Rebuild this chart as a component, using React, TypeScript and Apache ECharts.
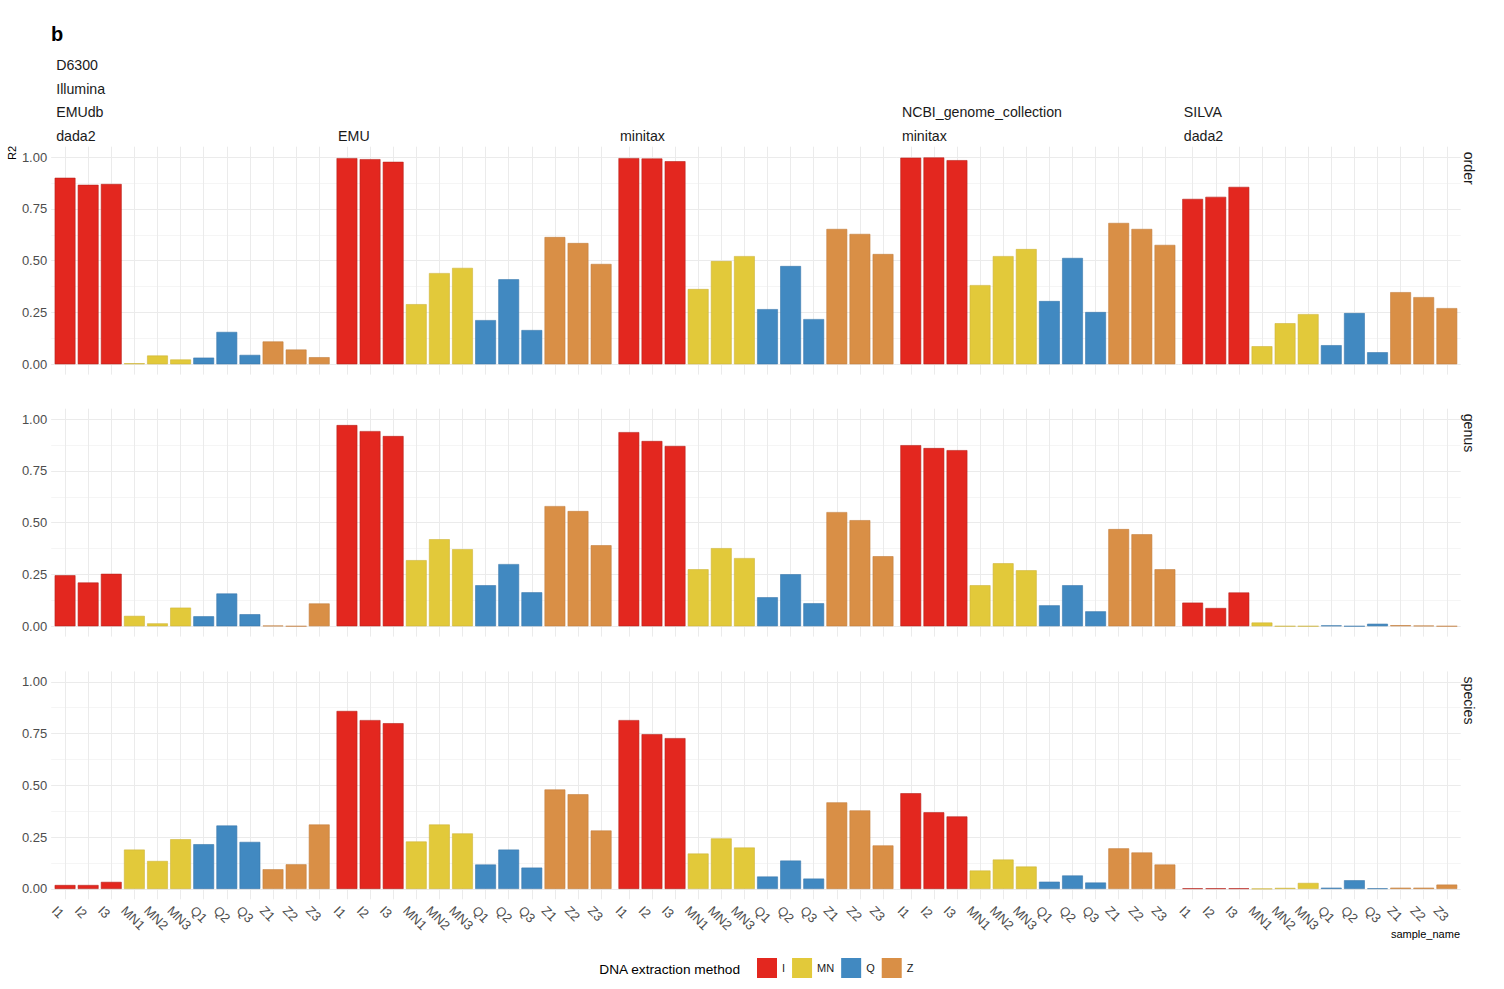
import React, { useEffect, useRef } from "react";
import * as echarts from "echarts";

// ---------- data ----------
const categories = ["I1", "I2", "I3", "MN1", "MN2", "MN3", "Q1", "Q2", "Q3", "Z1", "Z2", "Z3"];
const methods = ["I", "MN", "Q", "Z"];
const ranks = ["order", "genus", "species"];
const yTickLabels = ["0.00", "0.25", "0.50", "0.75", "1.00"];
const pipelineLabels = [
  ["D6300", "Illumina", "EMUdb", "dada2"],
  ["EMU"],
  ["minitax"],
  ["NCBI_genome_collection", "minitax"],
  ["SILVA", "dada2"],
];

// order
const orderEMUdbDada2 = [0.9, 0.866, 0.87, 0.005, 0.042, 0.023, 0.032, 0.156, 0.045, 0.11, 0.071, 0.034];
const orderEMU = [0.995, 0.99, 0.977, 0.29, 0.44, 0.465, 0.213, 0.41, 0.165, 0.614, 0.585, 0.484];
const orderMinitax = [0.995, 0.993, 0.98, 0.363, 0.498, 0.522, 0.266, 0.474, 0.218, 0.653, 0.629, 0.532];
const orderNCBIMinitax = [0.997, 0.998, 0.985, 0.382, 0.522, 0.556, 0.305, 0.513, 0.252, 0.682, 0.653, 0.576];
const orderSILVADada2 = [0.798, 0.808, 0.856, 0.087, 0.198, 0.242, 0.092, 0.247, 0.058, 0.348, 0.324, 0.271];
// genus
const genusEMUdbDada2 = [0.246, 0.211, 0.253, 0.05, 0.014, 0.09, 0.048, 0.158, 0.058, 0.003, 0, 0.11];
const genusEMU = [0.971, 0.942, 0.918, 0.319, 0.42, 0.372, 0.198, 0.3, 0.164, 0.58, 0.556, 0.391];
const genusMinitax = [0.937, 0.894, 0.87, 0.275, 0.377, 0.329, 0.14, 0.251, 0.111, 0.551, 0.512, 0.338];
const genusNCBIMinitax = [0.874, 0.86, 0.85, 0.198, 0.304, 0.27, 0.101, 0.198, 0.072, 0.469, 0.444, 0.275];
const genusSILVADada2 = [0.114, 0.088, 0.163, 0.018, 0, 0, 0.004, 0, 0.012, 0.005, 0.003, 0];
// species
const speciesEMUdbDada2 = [0.019, 0.019, 0.034, 0.19, 0.135, 0.24, 0.216, 0.306, 0.227, 0.095, 0.119, 0.311];
const speciesEMU = [0.859, 0.815, 0.8, 0.229, 0.311, 0.268, 0.118, 0.19, 0.103, 0.48, 0.457, 0.282];
const speciesMinitax = [0.815, 0.747, 0.728, 0.171, 0.244, 0.2, 0.06, 0.137, 0.05, 0.418, 0.379, 0.21];
const speciesNCBIMinitax = [0.462, 0.37, 0.35, 0.089, 0.142, 0.108, 0.035, 0.065, 0.031, 0.196, 0.176, 0.118];
const speciesSILVADada2 = [0.003, 0.003, 0.003, 0.001, 0.005, 0.029, 0.006, 0.042, 0.003, 0.006, 0.006, 0.021];

const panelValues = [
  [orderEMUdbDada2, orderEMU, orderMinitax, orderNCBIMinitax, orderSILVADada2],
  [genusEMUdbDada2, genusEMU, genusMinitax, genusNCBIMinitax, genusSILVADada2],
  [speciesEMUdbDada2, speciesEMU, speciesMinitax, speciesNCBIMinitax, speciesSILVADada2],
];

// ---------- styles ----------
const methodColors: Record<string, string> = { I: "#E3271F", MN: "#E2C93A", Q: "#4189C1", Z: "#D98F46" };
const methodBorders: Record<string, string> = { I: "#B8231D", MN: "#CFB63A", Q: "#3A79AC", Z: "#C4803F" };
const FONT = "'Liberation Sans', Arial, Helvetica, sans-serif";
const GRID_COLOR = "#ebebeb";

const PANEL_LEFT = 51.2;
const PANEL_STEP = 281.9;
const PANEL_W = 281.9;
const ROW_TOPS = [146.7, 408.7, 671.4];
const PANEL_H = 227.9;
const EXPAND = 0.6; // discrete expansion in category units
const UNITS = 12 + 2 * EXPAND - 1; // 12.2 units across the panel
const BAND = PANEL_W / UNITS;

const methodOf = (c: string) => c.replace(/\d+$/, "");

export default function App() {
  const ref = useRef<HTMLDivElement>(null);

  useEffect(() => {
    if (!ref.current) return;
    const chart = echarts.init(ref.current, undefined, { renderer: "svg" });

    // y grid scaffold: 45 positions from -0.05 to 1.05 step 0.025
    const yScaffold: string[] = [];
    for (let k = 0; k <= 44; k++) {
      const t = k - 2;
      yScaffold.push(t >= 0 && t % 10 === 0 ? yTickLabels[t / 10] : "");
    }
    // x grid scaffold: 123 positions across the panel, step 0.1 category units
    const xScaffold: string[] = [];
    for (let k = 0; k <= 122; k++) xScaffold.push(String(k));

    const grids: any[] = [];
    const xAxes: any[] = [];
    const yAxes: any[] = [];
    const series: any[] = [];

    for (let r = 0; r < 3; r++) {
      for (let c = 0; c < 5; c++) {
        const panelLeft = PANEL_LEFT + c * PANEL_STEP;
        // background grid (panel)
        const gBg = grids.length;
        grids.push({ left: panelLeft, top: ROW_TOPS[r], width: PANEL_W, height: PANEL_H });
        // bar grid (12 bands exactly)
        const gBar = grids.length;
        grids.push({
          left: panelLeft + (EXPAND - 0.5) * BAND,
          top: ROW_TOPS[r],
          width: 12 * BAND,
          height: PANEL_H,
        });

        // background x scaffold: vertical lines at category centres
        xAxes.push({
          type: "category",
          gridIndex: gBg,
          data: xScaffold,
          boundaryGap: false,
          axisLine: { show: false },
          axisTick: { show: false },
          axisLabel: { show: false },
          splitLine: {
            show: true,
            interval: (k: number) => k >= 6 && (k - 6) % 10 === 0,
            lineStyle: { color: GRID_COLOR, width: 1 },
          },
        });
        // major horizontal grid + labels
        yAxes.push({
          type: "category",
          gridIndex: gBg,
          data: yScaffold,
          boundaryGap: false,
          axisLine: { show: false },
          axisTick: { show: false },
          axisLabel: {
            show: c === 0,
            interval: 0,
            margin: 4,
            fontSize: 13,
            fontFamily: FONT,
            color: "#4d4d4d",
          },
          splitLine: {
            show: true,
            interval: (k: number) => k >= 2 && (k - 2) % 10 === 0,
            lineStyle: { color: GRID_COLOR, width: 1 },
          },
        });
        // minor horizontal grid
        yAxes.push({
          type: "category",
          gridIndex: gBg,
          data: yScaffold,
          boundaryGap: false,
          axisLine: { show: false },
          axisTick: { show: false },
          axisLabel: { show: false },
          splitLine: {
            show: true,
            interval: (k: number) => k >= 2 && (k - 2) % 10 === 5,
            lineStyle: { color: GRID_COLOR, width: 0.5 },
          },
        });

        // bar axes
        const xBar = xAxes.length;
        xAxes.push({
          type: "category",
          gridIndex: gBar,
          data: categories,
          axisLine: { show: false },
          axisTick: { show: false },
          splitLine: { show: false },
          axisLabel: {
            show: r === 2,
            interval: 0,
            rotate: -45,
            align: "left",
            verticalAlign: "top",
            margin: -2,
            padding: [9, 0, 0, 0],
            fontSize: 13,
            fontFamily: FONT,
            color: "#4d4d4d",
          },
        });
        const yBar = yAxes.length;
        yAxes.push({
          type: "value",
          gridIndex: gBar,
          min: -0.05,
          max: 1.05,
          show: false,
        });

        const values = panelValues[r][c];
        methods.forEach((m) => {
          series.push({
            type: "bar",
            name: m,
            xAxisIndex: xBar,
            yAxisIndex: yBar,
            barWidth: 0.9 * BAND,
            barGap: "-100%",
            data: values.map((v, i) => (methodOf(categories[i]) === m ? v : "-")),
            itemStyle: {
              color: methodColors[m],
              borderColor: methodBorders[m],
              borderWidth: 0.6,
            },
            silent: true,
          });
        });
      }
    }

    const graphics: any[] = [];
    graphics.push({
      type: "text",
      x: 51,
      y: 34,
      style: { text: "b", font: `bold 20px ${FONT}`, fill: "#000", verticalAlign: "middle" },
    });
    const lineYs = [65, 88.7, 112.4, 136];
    pipelineLabels.forEach((lines, c) => {
      const n = lines.length;
      lines.forEach((t, i) => {
        graphics.push({
          type: "text",
          x: PANEL_LEFT + c * PANEL_STEP + 5,
          y: lineYs[4 - n + i],
          style: { text: t, font: `14.2px ${FONT}`, fill: "#1a1a1a", verticalAlign: "middle" },
        });
      });
    });
    ranks.forEach((rk, r) => {
      graphics.push({
        type: "text",
        x: 1469,
        y: ROW_TOPS[r] + 5,
        rotation: -Math.PI / 2,
        style: { text: rk, font: `14.2px ${FONT}`, fill: "#1a1a1a", align: "left", verticalAlign: "middle" },
      });
    });
    graphics.push({
      type: "text",
      x: 12,
      y: 146,
      rotation: Math.PI / 2,
      style: { text: "R2", font: `11px ${FONT}`, fill: "#000", align: "right", verticalAlign: "middle" },
    });
    graphics.push({
      type: "text",
      x: 1460,
      y: 934,
      style: { text: "sample_name", font: `11px ${FONT}`, fill: "#000", align: "right", verticalAlign: "middle" },
    });
    graphics.push({
      type: "text",
      x: 740,
      y: 969,
      style: { text: "DNA extraction method", font: `13.7px ${FONT}`, fill: "#000", align: "right", verticalAlign: "middle" },
    });

    chart.setOption({
      animation: false,
      backgroundColor: "#ffffff",
      textStyle: { fontFamily: FONT },
      grid: grids,
      xAxis: xAxes,
      yAxis: yAxes,
      series,
      legend: {
        data: methods,
        left: 757,
        top: 958,
        itemWidth: 20,
        itemHeight: 20,
        itemGap: 7,
        icon: "rect",
        selectedMode: false,
        padding: 0,
        textStyle: { fontSize: 11, fontFamily: FONT, color: "#1a1a1a" },
        itemStyle: { borderWidth: 0 },
      },
      graphic: graphics,
    });

    return () => chart.dispose();
  }, []);

  return (
    <div
      ref={ref}
      style={{ position: "fixed", left: 0, top: 0, width: 1504, height: 989, background: "#fff" }}
    />
  );
}
